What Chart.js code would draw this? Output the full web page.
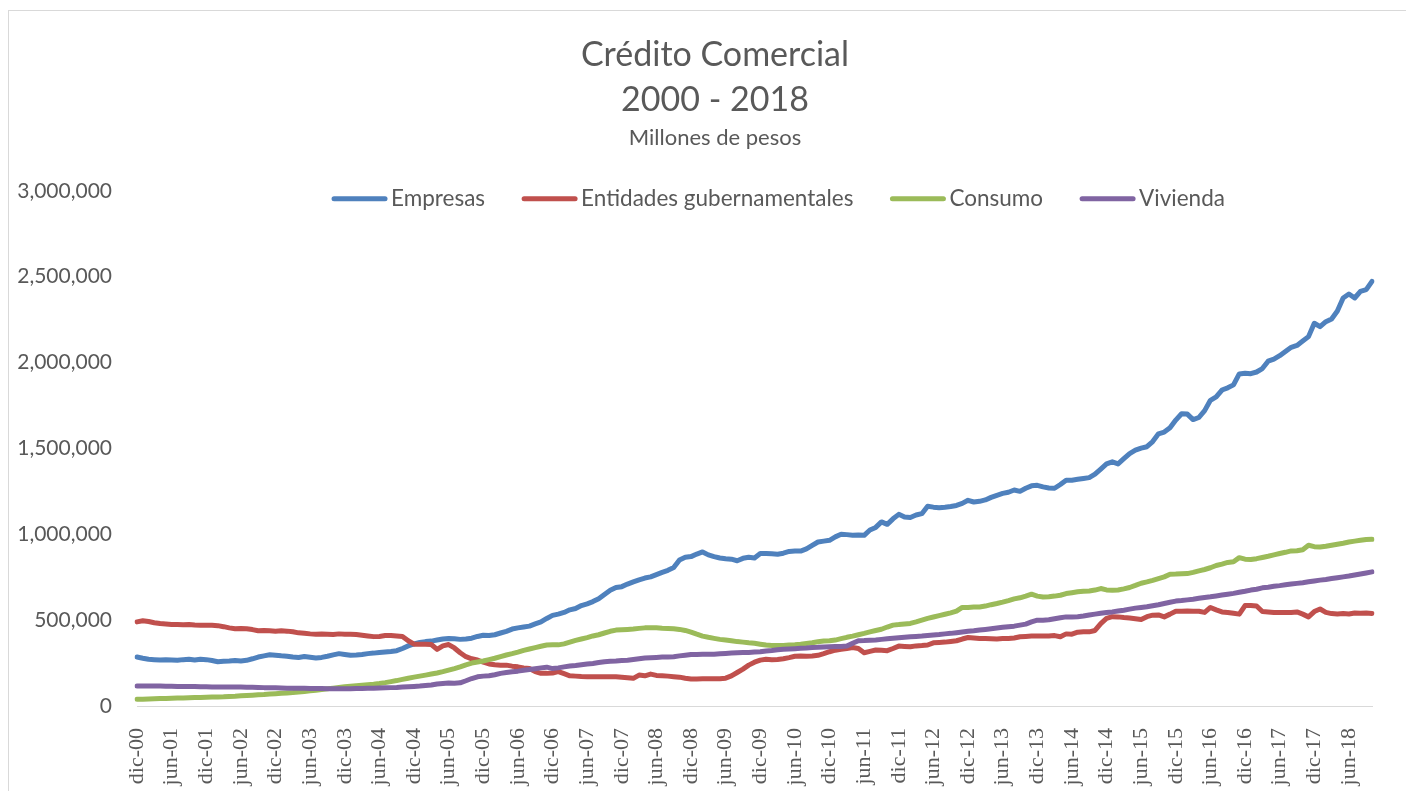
<!DOCTYPE html>
<html lang="es">
<head>
<meta charset="utf-8">
<title>Crédito Comercial 2000 - 2018</title>
<script src="https://cdn.jsdelivr.net/npm/chart.js@4.4.1/dist/chart.umd.min.js"></script>
<style>
  html, body { margin: 0; padding: 0; background: #fff; }
  canvas { display: block; }
</style>
</head>
<body>
<canvas id="myChart" width="1406" height="791"></canvas>
<script>
// Saldos mensuales, millones de pesos (dic-00 a oct-18)
const empresas = [
  285000,
  278000, 272000, 270000, 268000, 270000, 268000, 266000, 270000, 272000, 268000, 272000, 270000,
  265000, 258000, 260000, 262000, 265000, 262000, 266000, 275000, 285000, 292000, 298000, 295000,
  292000, 290000, 285000, 283000, 288000, 284000, 280000, 283000, 290000, 298000, 305000, 300000,
  295000, 297000, 300000, 305000, 308000, 312000, 315000, 318000, 322000, 335000, 350000, 362000,
  370000, 375000, 378000, 384000, 390000, 393000, 392000, 388000, 390000, 395000, 405000, 412000,
  410000, 415000, 425000, 435000, 448000, 455000, 460000, 465000, 478000, 490000, 510000, 528000,
  535000, 545000, 560000, 568000, 585000, 595000, 608000, 625000, 650000, 674000, 690000, 695000,
  710000, 723000, 735000, 745000, 752000, 765000, 778000, 790000, 806000, 850000, 866000, 870000,
  885000, 897000, 880000, 870000, 862000, 858000, 855000, 846000, 860000, 866000, 862000, 888000,
  888000, 886000, 884000, 890000, 900000, 902000, 902000, 915000, 935000, 955000, 960000, 965000,
  985000, 1000000, 998000, 995000, 996000, 994000, 1025000, 1040000, 1072000, 1058000, 1090000, 1116000,
  1100000, 1098000, 1112000, 1120000, 1163000, 1158000, 1155000, 1158000, 1162000, 1168000, 1180000, 1198000,
  1188000, 1192000, 1200000, 1215000, 1227000, 1238000, 1245000, 1258000, 1250000, 1268000, 1282000, 1285000,
  1276000, 1270000, 1268000, 1290000, 1315000, 1315000, 1320000, 1325000, 1330000, 1350000, 1380000, 1410000,
  1422000, 1410000, 1440000, 1470000, 1490000, 1502000, 1510000, 1540000, 1585000, 1595000, 1620000, 1665000,
  1702000, 1700000, 1668000, 1680000, 1720000, 1780000, 1800000, 1840000, 1853000, 1870000, 1934000, 1938000,
  1935000, 1945000, 1965000, 2008000, 2020000, 2040000, 2065000, 2089000, 2100000, 2125000, 2151000, 2229000,
  2209000, 2238000, 2254000, 2300000, 2376000, 2399000, 2376000, 2415000, 2425000, 2473000
];

const gubernamentales = [
  490000,
  496000, 492000, 485000, 480000, 478000, 475000, 475000, 473000, 475000, 472000, 470000, 470000,
  470000, 468000, 462000, 455000, 450000, 452000, 450000, 445000, 438000, 440000, 438000, 436000,
  438000, 436000, 432000, 426000, 424000, 420000, 418000, 419000, 418000, 416000, 420000, 418000,
  418000, 416000, 412000, 408000, 404000, 405000, 410000, 411000, 408000, 405000, 380000, 360000,
  360000, 360000, 358000, 330000, 350000, 358000, 338000, 310000, 287000, 275000, 268000, 255000,
  245000, 240000, 238000, 238000, 232000, 228000, 222000, 218000, 200000, 190000, 190000, 192000,
  200000, 188000, 176000, 174000, 172000, 171000, 171000, 170000, 171000, 170000, 171000, 168000,
  165000, 161000, 180000, 176000, 186000, 178000, 176000, 174000, 171000, 168000, 162000, 157000,
  157000, 158000, 158000, 158000, 159000, 162000, 175000, 195000, 215000, 238000, 255000, 267000,
  272000, 270000, 271000, 275000, 282000, 290000, 291000, 290000, 291000, 295000, 305000, 316000,
  325000, 330000, 335000, 341000, 335000, 310000, 318000, 326000, 324000, 322000, 335000, 349000,
  347000, 345000, 350000, 352000, 355000, 368000, 370000, 372000, 376000, 380000, 390000, 399000,
  396000, 393000, 393000, 392000, 390000, 393000, 393000, 396000, 403000, 405000, 407000, 407000,
  407000, 407000, 410000, 403000, 420000, 418000, 430000, 432000, 432000, 440000, 480000, 510000,
  520000, 519000, 515000, 512000, 508000, 504000, 520000, 529000, 530000, 519000, 535000, 552000,
  552000, 553000, 552000, 552000, 545000, 574000, 560000, 548000, 545000, 540000, 535000, 585000,
  585000, 582000, 550000, 548000, 545000, 545000, 545000, 545000, 548000, 535000, 519000, 550000,
  565000, 545000, 538000, 536000, 538000, 536000, 542000, 540000, 541000, 539000
];

const consumo = [
  39000,
  40000, 41000, 42000, 43000, 44000, 45000, 46000, 47000, 48000, 49000, 50000, 51000,
  52000, 53000, 54000, 56000, 57000, 59000, 61000, 63000, 65000, 67000, 70000, 72000,
  74000, 76000, 78000, 81000, 84000, 88000, 92000, 96000, 100000, 104000, 108000, 112000,
  115000, 118000, 121000, 124000, 127000, 131000, 136000, 142000, 148000, 155000, 162000, 168000,
  174000, 180000, 186000, 192000, 200000, 209000, 218000, 228000, 240000, 250000, 256000, 262000,
  270000, 278000, 288000, 297000, 305000, 314000, 324000, 332000, 340000, 348000, 355000, 356000,
  356000, 362000, 372000, 382000, 390000, 398000, 408000, 415000, 425000, 435000, 442000, 444000,
  446000, 448000, 452000, 455000, 456000, 455000, 453000, 452000, 450000, 446000, 440000, 430000,
  418000, 407000, 400000, 394000, 388000, 384000, 380000, 375000, 372000, 368000, 365000, 360000,
  355000, 353000, 352000, 353000, 355000, 357000, 360000, 364000, 368000, 374000, 378000, 380000,
  384000, 392000, 400000, 407000, 415000, 423000, 432000, 440000, 447000, 460000, 471000, 474000,
  478000, 481000, 490000, 500000, 510000, 518000, 526000, 534000, 542000, 552000, 574000, 574000,
  576000, 577000, 582000, 590000, 597000, 605000, 614000, 624000, 630000, 640000, 651000, 640000,
  635000, 636000, 640000, 645000, 655000, 660000, 665000, 668000, 670000, 675000, 684000, 676000,
  674000, 676000, 682000, 690000, 702000, 715000, 723000, 732000, 742000, 752000, 767000, 768000,
  770000, 771000, 778000, 787000, 795000, 805000, 818000, 826000, 836000, 840000, 864000, 855000,
  853000, 858000, 865000, 872000, 880000, 888000, 895000, 903000, 904000, 910000, 936000, 928000,
  926000, 930000, 936000, 942000, 948000, 955000, 960000, 965000, 970000, 971000
];

const vivienda = [
  116000,
  116000, 116000, 116000, 116000, 115000, 115000, 114000, 114000, 113000, 113000, 112000, 112000,
  111000, 111000, 111000, 110000, 110000, 110000, 109000, 109000, 108000, 107000, 107000, 106000,
  105000, 104000, 104000, 103000, 103000, 102000, 102000, 102000, 101000, 101000, 101000, 101000,
  101000, 102000, 102000, 103000, 104000, 105000, 106000, 107000, 108000, 110000, 112000, 114000,
  116000, 119000, 122000, 128000, 131000, 134000, 133000, 135000, 147000, 160000, 170000, 174000,
  176000, 182000, 190000, 195000, 200000, 203000, 208000, 212000, 217000, 222000, 226000, 218000,
  222000, 228000, 233000, 236000, 240000, 244000, 248000, 253000, 258000, 260000, 262000, 265000,
  267000, 271000, 275000, 279000, 281000, 283000, 285000, 286000, 287000, 292000, 296000, 300000,
  300000, 301000, 302000, 302000, 304000, 306000, 308000, 310000, 311000, 312000, 314000, 316000,
  320000, 323000, 327000, 330000, 332000, 334000, 336000, 338000, 341000, 342000, 344000, 345000,
  346000, 347000, 349000, 365000, 380000, 381000, 383000, 385000, 388000, 391000, 394000, 397000,
  400000, 403000, 405000, 407000, 410000, 413000, 416000, 420000, 423000, 427000, 431000, 435000,
  438000, 442000, 446000, 450000, 454000, 458000, 462000, 465000, 471000, 477000, 490000, 500000,
  500000, 502000, 508000, 514000, 519000, 519000, 520000, 524000, 530000, 535000, 540000, 544000,
  548000, 553000, 558000, 564000, 570000, 574000, 578000, 584000, 590000, 597000, 604000, 611000,
  614000, 618000, 622000, 627000, 632000, 636000, 641000, 646000, 651000, 656000, 662000, 668000,
  675000, 680000, 688000, 692000, 697000, 701000, 706000, 710000, 714000, 718000, 723000, 728000,
  733000, 737000, 742000, 747000, 752000, 757000, 763000, 769000, 775000, 781000
];

const series = ["Empresas", "Entidades gubernamentales", "Consumo", "Vivienda"];
const colores = ["#4F81BD", "#C0504D", "#9BBB59", "#8064A2"];
const meses = ["ene", "feb", "mar", "abr", "may", "jun", "jul", "ago", "sep", "oct", "nov", "dic"];

// etiquetas mes-año a partir de dic-00
const categorias = ["dic-00"];
for (let anio = 2001; categorias.length < empresas.length; anio++) {
  for (let m = 0; m < 12 && categorias.length < empresas.length; m++) {
    categorias.push(meses[m] + "-" + String(anio).slice(2));
  }
}

const gris = "#595959";
const fuente = "Lato";

// fondo blanco y marco del gráfico
const marco = {
  id: "marco",
  beforeDraw(chart) {
    const c = chart.ctx;
    c.save();
    c.fillStyle = "#fff";
    c.fillRect(0, 0, chart.width, chart.height);
    c.strokeStyle = "#d9d9d9";
    c.lineWidth = 1;
    c.strokeRect(8.5, 10.5, chart.width + 20, chart.height + 20);
    c.restore();
  }
};

// título y subtítulo un poco a la derecha del centro del lienzo
const centrarTitulo = {
  id: "centrarTitulo",
  afterLayout(chart) {
    chart.boxes.forEach((b) => {
      if (b.position === "top" && b.options && b.options.text) {
        b.left += 29;
        b.right += 29;
      }
    });
  }
};

// leyenda de líneas gruesas dentro del área de trazado
const leyenda = {
  id: "leyenda",
  afterDraw(chart) {
    const c = chart.ctx;
    const muestra = 55, hueco = 4, separa = 37;
    c.save();
    c.font = "22.5px " + fuente;
    const anchos = chart.data.datasets.map((d) => c.measureText(d.label).width);
    const total = anchos.reduce((a, w) => a + muestra + hueco + w, 0) + separa * (anchos.length - 1);
    let x = (chart.chartArea.left + chart.chartArea.right) / 2 + 24 - total / 2;
    const y = chart.chartArea.top + 8;
    c.textBaseline = "middle";
    c.lineCap = "round";
    chart.data.datasets.forEach((d, i) => {
      c.strokeStyle = d.borderColor;
      c.lineWidth = 5;
      c.beginPath();
      c.moveTo(x + 2, y);
      c.lineTo(x + muestra - 2, y);
      c.stroke();
      c.fillStyle = gris;
      c.fillText(d.label, x + muestra + hueco, y);
      x += muestra + hueco + anchos[i] + separa;
    });
    c.restore();
  }
};

const valores = [empresas, gubernamentales, consumo, vivienda];

new Chart(document.getElementById("myChart"), {
  type: "line",
  data: {
    labels: categorias,
    datasets: series.map((nombre, i) => ({
      label: nombre,
      data: valores[i],
      borderColor: colores[i],
      backgroundColor: colores[i],
      borderWidth: 5,
      pointRadius: 0,
      tension: 0,
      borderCapStyle: "round",
      borderJoinStyle: "round",
      order: series.length - i,
    })),
  },
  options: {
    responsive: false,
    animation: false,
    devicePixelRatio: 1,
    layout: { padding: { left: 0, right: 34, top: 0, bottom: 0 } },
    plugins: {
      legend: { display: false },
      tooltip: { enabled: false },
      title: {
        display: true,
        text: ["Crédito Comercial", "2000 - 2018"],
        color: gris,
        font: { family: fuente, size: 34, weight: "normal", lineHeight: 1.33 },
        padding: { top: 32, bottom: 0 },
      },
      subtitle: {
        display: true,
        text: "Millones de pesos",
        color: gris,
        font: { family: fuente, size: 22, weight: "normal", lineHeight: 1.2 },
        padding: { top: 2, bottom: 40 },
      },
    },
    scales: {
      x: {
        grid: { display: false, drawTicks: false },
        border: { display: true, color: "#d9d9d9", width: 1 },
        ticks: {
          autoSkip: false,
          minRotation: 90,
          maxRotation: 90,
          padding: 22,
          color: gris,
          font: { family: "Liberation Serif", size: 22 },
          callback: function (value, index) {
            return index % 6 === 0 ? this.getLabelForValue(value) : "";
          },
        },
        afterFit: (scale) => {
          scale.height = 85;
          scale.paddingLeft = 0;
          scale.paddingRight = 0;
        },
      },
      y: {
        min: 0,
        max: 3000000,
        grid: { display: false, drawTicks: false },
        border: { display: false },
        ticks: {
          stepSize: 500000,
          padding: 25,
          color: gris,
          font: { family: fuente, size: 21 },
          callback: (v) => v.toLocaleString("en-US"),
        },
        afterFit: (scale) => { scale.width = 137; },
      },
    },
  },
  plugins: [marco, centrarTitulo, leyenda],
});
</script>
</body>
</html>
